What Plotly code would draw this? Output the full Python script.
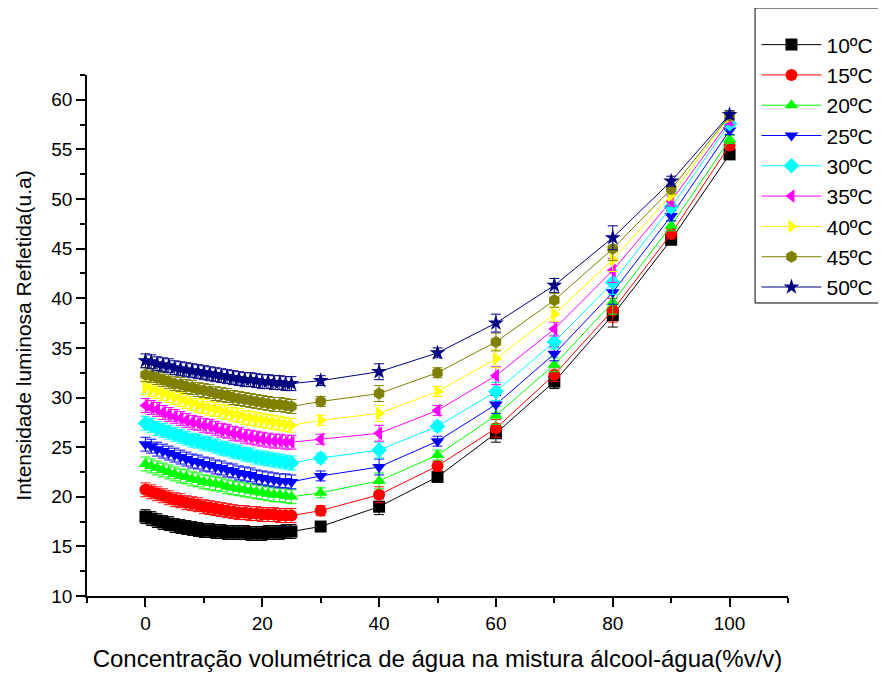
import plotly.graph_objects as go

x_dense = list(range(0, 26))
x_sparse = [30, 40, 50, 60, 70, 80, 90, 100]
x_all = x_dense + x_sparse

labels = ["10ºC", "15ºC", "20ºC", "25ºC", "30ºC", "35ºC", "40ºC", "45ºC", "50ºC"]

y10 = [18.0, 17.8, 17.6, 17.4, 17.3, 17.1, 17.0, 16.9, 16.8, 16.7, 16.6, 16.6, 16.5, 16.5, 16.4, 16.4, 16.4, 16.4, 16.3, 16.3, 16.3, 16.4, 16.4, 16.4, 16.5, 16.5,
       17.0, 19.0, 22.0, 26.4, 31.6, 38.3, 45.9, 54.5]
y15 = [20.7, 20.5, 20.3, 20.1, 19.9, 19.7, 19.6, 19.4, 19.3, 19.2, 19.0, 18.9, 18.8, 18.7, 18.6, 18.5, 18.4, 18.4, 18.3, 18.3, 18.2, 18.2, 18.2, 18.1, 18.1, 18.1,
       18.6, 20.2, 23.1, 26.9, 32.3, 38.8, 46.5, 55.4]
y20 = [23.3, 23.1, 22.9, 22.7, 22.5, 22.3, 22.1, 22.0, 21.8, 21.7, 21.5, 21.4, 21.3, 21.2, 21.0, 20.9, 20.8, 20.7, 20.6, 20.5, 20.4, 20.3, 20.2, 20.2, 20.1, 20.0,
       20.4, 21.6, 24.2, 28.2, 33.3, 39.6, 47.3, 56.0]
y25 = [25.3, 25.1, 24.8, 24.6, 24.4, 24.2, 24.0, 23.8, 23.6, 23.5, 23.3, 23.2, 23.0, 22.9, 22.7, 22.6, 22.4, 22.3, 22.2, 22.0, 21.9, 21.8, 21.7, 21.6, 21.6, 21.5,
       22.1, 23.0, 25.6, 29.3, 34.4, 40.6, 48.3, 56.9]
y30 = [27.4, 27.2, 26.9, 26.7, 26.5, 26.3, 26.1, 25.9, 25.7, 25.6, 25.4, 25.3, 25.1, 24.9, 24.8, 24.6, 24.5, 24.3, 24.2, 24.0, 23.9, 23.8, 23.7, 23.6, 23.5, 23.4,
       23.9, 24.7, 27.1, 30.6, 35.6, 41.6, 49.2, 57.6]
y35 = [29.2, 29.0, 28.8, 28.5, 28.3, 28.1, 27.9, 27.7, 27.5, 27.4, 27.2, 27.1, 26.9, 26.7, 26.6, 26.4, 26.3, 26.1, 26.0, 25.9, 25.8, 25.7, 25.6, 25.6, 25.5, 25.5,
       25.8, 26.4, 28.7, 32.2, 36.9, 42.8, 49.8, 57.9]
y40 = [31.0, 30.8, 30.6, 30.4, 30.2, 30.0, 29.8, 29.6, 29.4, 29.2, 29.1, 28.9, 28.8, 28.6, 28.5, 28.3, 28.2, 28.0, 27.9, 27.8, 27.7, 27.6, 27.5, 27.4, 27.3, 27.2,
       27.7, 28.4, 30.6, 33.9, 38.4, 43.9, 50.4, 58.3]
y45 = [32.3, 32.2, 32.0, 31.8, 31.6, 31.4, 31.3, 31.1, 31.0, 30.8, 30.7, 30.6, 30.4, 30.3, 30.2, 30.0, 29.9, 29.8, 29.7, 29.6, 29.5, 29.4, 29.3, 29.3, 29.2, 29.1,
       29.6, 30.4, 32.5, 35.6, 39.8, 45.0, 51.0, 58.4]
y50 = [33.7, 33.6, 33.4, 33.3, 33.2, 33.0, 32.9, 32.8, 32.7, 32.6, 32.5, 32.4, 32.3, 32.2, 32.1, 32.0, 31.9, 31.8, 31.8, 31.7, 31.6, 31.6, 31.5, 31.5, 31.4, 31.4,
       31.7, 32.6, 34.5, 37.5, 41.3, 46.1, 51.8, 58.5]

# error bar half-widths (dense region, then sparse points)
err_dense = [0.7] * 26
err_sparse = [0.5, 0.8, 0.5, 0.9, 0.7, 1.2, 0.5, 0.4]
err_all = err_dense + err_sparse

series = [y10, y15, y20, y25, y30, y35, y40, y45, y50]
colors = ["#000000", "#ff0000", "#00ff00", "#0000ff", "#00ffff", "#ff00ff", "#ffff00", "#808000", "#000080"]
symbols = ["square", "circle", "triangle-up", "triangle-down", "diamond", "triangle-left", "triangle-right", "hexagon", "star"]

fig = go.Figure()
for lab, ys, c, s in zip(labels, series, colors, symbols):
    fig.add_trace(go.Scatter(
        x=x_all, y=ys, name=lab, mode="lines+markers",
        line=dict(color=c, width=1),
        marker=dict(symbol=s, size=12, color=c, line=dict(width=0)),
        error_y=dict(type="data", array=err_all, visible=True, color=c, thickness=1, width=5),
    ))

# page body has an 8px margin; offset the figure so the plot area lands where the reference has it
fig.update_layout(
    width=886, height=674,
    margin=dict(l=79, r=106, t=67, b=86, autoexpand=False),
    paper_bgcolor="white", plot_bgcolor="white",
    font=dict(family="Liberation Sans, Arial, sans-serif", color="black", size=19),
    showlegend=True,
    legend=dict(x=0.955, y=1.097, xanchor="left", yanchor="top",
                borderwidth=0, bgcolor="rgba(0,0,0,0)",
                font=dict(size=21), tracegroupgap=0, itemwidth=60),
    shapes=[dict(type="rect", xref="paper", yref="paper",
                 x0=0.953, x1=1.3, y0=0.5624, y1=1.1286,
                 line=dict(color="black", width=1), fillcolor="rgba(0,0,0,0)", layer="above")],
)
fig.update_xaxes(
    range=[-10, 110], showgrid=False, zeroline=False,
    showline=True, linecolor="black", linewidth=1.5,
    ticks="outside", tickcolor="black", ticklen=9, tickwidth=1.5, dtick=20, tick0=0,
    minor=dict(ticks="outside", dtick=10, ticklen=5, tickcolor="black", tickwidth=1.5),
    tickfont=dict(size=19),
    title=dict(text="Concentração volumétrica de água na mistura álcool-água(%v/v)", font=dict(size=24), standoff=18),
)
fig.update_yaxes(
    range=[10, 62.5], showgrid=False, zeroline=False,
    showline=True, linecolor="black", linewidth=1.5,
    ticks="outside", tickcolor="black", ticklen=9, tickwidth=1.5, dtick=5, tick0=10,
    minor=dict(ticks="outside", dtick=2.5, ticklen=5, tickcolor="black", tickwidth=1.5),
    tickfont=dict(size=19),
    title=dict(text="Intensidade luminosa Refletida(u.a)", font=dict(size=21), standoff=14),
)

fig.write_html("out.html")
